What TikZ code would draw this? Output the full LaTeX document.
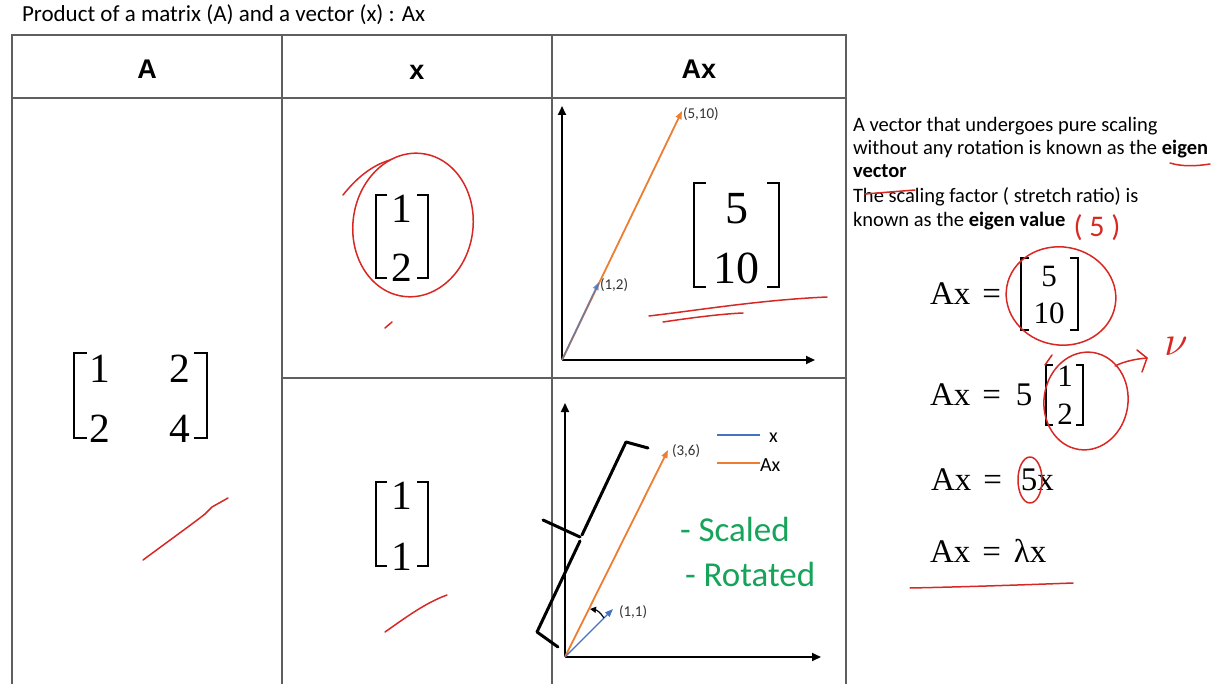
\documentclass[tikz,border=0pt]{standalone}
\usepackage{fontspec}
\newfontfamily\calib{Carlito}
\newfontfamily\arial{Liberation Sans}
\newfontfamily\cambr{Liberation Serif}
\usetikzlibrary{arrows.meta}
\definecolor{tablegray}{RGB}{95,95,95}
\definecolor{vorange}{RGB}{237,125,49}
\definecolor{vblue}{RGB}{68,114,196}
\definecolor{vgreen}{RGB}{22,163,90}
\definecolor{penred}{RGB}{215,40,35}
\definecolor{labgray}{RGB}{50,50,50}
\newcommand\brkt[5]{\draw[brk,#5] (#1+#4,#2) -- (#1,#2) -- (#1,#3) -- (#1+#4,#3);}
\newcommand\bigmath[2]{{\fontsize{10}{12}\selectfont\scalebox{#1}{$#2$}}}
\tikzset{
  grid/.style={draw=tablegray, line width=1.3pt},
  axis/.style={line width=2pt, -{Triangle[length=9pt,width=8pt]}},
  vec/.style={line width=1.8pt, -{Triangle[length=8pt,width=6pt]}},
  redpen/.style={draw=penred, line width=1.5pt, line cap=round, line join=round},
  brk/.style={line width=2.5pt, line join=miter, line cap=butt},
  txt/.style={inner sep=0pt, outer sep=0pt},
  hdr/.style={txt, font=\arial\bfseries\fontsize{27}{27}\selectfont},
  body/.style={txt, anchor=base west, font=\calib\fontsize{20.5}{24}\selectfont},
  lab/.style={txt, anchor=west, text=labgray, font=\calib\fontsize{15}{15}\selectfont},
  dig/.style={txt, font=\cambr\fontsize{41.5}{41.5}\selectfont},
  bigdig/.style={txt, font=\cambr\fontsize{46}{46}\selectfont},
  eqf/.style={txt, anchor=base west, font=\cambr\fontsize{33}{33}\selectfont},
  eqdig/.style={txt, font=\cambr\fontsize{31}{31}\selectfont},
  greentxt/.style={txt, anchor=base west, text=vgreen, font=\calib\fontsize{35}{35}\selectfont},
  legtxt/.style={txt, anchor=west, font=\calib\fontsize{20}{20}\selectfont},
}
\begin{document}
\begin{tikzpicture}[x=1pt,y=-1pt]
\useasboundingbox (0,0) rectangle (1219,695);
% title
\node[body, font=\calib\fontsize{23}{26}\selectfont] (title) at (22,22) {Product of a matrix (A) and a vector (x) : Ax};
% table
\draw[grid] (12,684) -- (12,35) -- (846,35) -- (846,684);
\draw[grid] (12,98) -- (846,98);
\draw[grid] (282,35) -- (282,684);
\draw[grid] (552,35) -- (552,684);
\draw[grid] (282,378) -- (846,378);
% headers
\node[hdr] (hA) at (147,69) {A};
\node[hdr] (hx) at (417,72.5) {x};
\node[hdr] (hAx) at (699,69) {Ax};
% matrix A
\node[dig] (a11) at (100,369) {1};
\node[dig] (a12) at (180,369) {2};
\node[dig] (a21) at (100,429) {2};
\node[dig] (a22) at (180,429) {4};
\brkt{74}{353}{438}{13}{}
\brkt{207}{353}{438}{-13}{}
% vector x top
\node[dig] (x1) at (402,209) {1};
\node[dig] (x2) at (402,267.5) {2};
\brkt{376}{195}{278}{11}{}
\brkt{428}{195}{278}{-11}{}
% vector x bottom
\node[dig] (y1) at (402,496) {1};
\node[dig] (y2) at (402,557) {1};
\brkt{376}{482}{566}{11}{}
\brkt{428}{482}{566}{-11}{}
% top plot
\coordinate (o1) at (562,360);
\coordinate (ya1) at (562,106);
\coordinate (xa1) at (815,360);
\coordinate (p510) at (682,111);
\coordinate (p12) at (599,282);
\draw[axis] (o1) -- (ya1);
\draw[axis] (o1) -- (xa1);
\draw[vec, vorange] (o1) -- (p510);
\draw[vec, vblue, opacity=0.65] (o1) -- (p12);
\node[lab] (l510) at (683,114) {(5,10)};
\node[lab] (l12) at (600,285) {(1,2)};
\node[bigdig] (z1) at (737,209) {5};
\node[bigdig] (z2) at (736,268) {10};
\brkt{694}{183}{287}{12}{line width=2.7pt}
\brkt{779}{183}{287}{-12}{line width=2.7pt}
% bottom plot
\coordinate (o2) at (565,657);
\coordinate (ya2) at (565,403);
\coordinate (xa2) at (821,657);
\coordinate (p36) at (668,450);
\coordinate (p11) at (613,609);
\draw[axis] (o2) -- (ya2);
\draw[axis] (o2) -- (xa2);
\draw[vec, vorange] (o2) -- (p36);
\draw[vec, vblue, line width=1.3pt] (o2) -- (p11);
\node[lab] (l36) at (672,451) {(3,6)};
\node[lab] (l11) at (619,612) {(1,1)};
\coordinate (rs) at (604,618);
\coordinate (re) at (590,609);
\draw[line width=1.2pt, -{Triangle[length=6pt,width=6pt]}] (rs) to[bend right=25] (re);
% legend
\coordinate (lb1) at (717,435);
\coordinate (lb2) at (760,435);
\coordinate (lo1) at (717,463);
\coordinate (lo2) at (760,463);
\draw[vblue, line width=1.5pt] (lb1) -- (lb2);
\draw[vorange, line width=2pt] (lo1) -- (lo2);
\node[legtxt] (lgx) at (769,438) {x};
\node[legtxt] (lgax) at (760,465) {Ax};
\node[greentxt] (g1) at (680,541.5) {- Scaled};
\node[greentxt] (g2) at (685,586.5) {- Rotated};
% hand-drawn bracket
\draw[line width=3pt, line cap=round, line join=round] (648,448) -- (626,442) -- (582,535);
\draw[line width=3pt, line cap=round, line join=round] (543,520) -- (580,537);
\draw[line width=3pt, line cap=round, line join=round] (580,541) -- (537,632) -- (558,647);
% right text
\node[body] (t1) at (853,132) {A vector that undergoes pure scaling};
\node[body] (t2) at (853,155) {without any rotation is known as the \textbf{eigen}};
\node[body] (t3) at (853,178) {\textbf{vector}};
\node[body] (t4) at (853,203) {The scaling factor ( stretch ratio) is};
\node[body] (t5) at (853,227) {known as the \textbf{eigen value}};
% equations
\node[eqf] (e1) at (930,305) {Ax\hspace{12pt}=};
\node[eqdig] (e1a) at (1049,277) {5};
\node[eqdig] (e1b) at (1049,313) {10};
\brkt{1021}{258}{330}{8}{line width=1.9pt}
\brkt{1078}{258}{330}{-8}{line width=1.9pt}
\node[eqf] (e2) at (930,405) {Ax\hspace{12pt}=\hspace{15pt}5};
\node[eqdig] (e2a) at (1065,376) {1};
\node[eqdig] (e2b) at (1065,414) {2};
\brkt{1046}{365}{425}{7}{line width=1.9pt}
\brkt{1083}{365}{425}{-7}{line width=1.9pt}
\node[eqf] (e3) at (931,490) {Ax\hspace{12pt}=\hspace{19pt}5x};
\node[eqf] (e4) at (930,562) {Ax\hspace{12pt}=\hspace{13pt}λx};
% red annotations
\draw[redpen] (143,560) .. controls (170,540) and (195,522) .. (205,514) -- (212,507) -- (228,498);
\draw[redpen] (343,195) .. controls (355,180) and (370,166) .. (390,160);
\draw[redpen, rotate around={-8:(413,225)}] (413,225) ellipse [x radius=60, y radius=72];
\draw[redpen] (385,328) -- (392,322);
\draw[redpen] (385,632) .. controls (405,618) and (425,603) .. (447,595);
\draw[redpen] (649,316) .. controls (700,310) and (760,300) .. (827,297);
\draw[redpen] (663,322) .. controls (690,318) and (720,314) .. (743,313);
\draw[redpen] (1170,163) .. controls (1183,167) and (1197,166) .. (1210,164);
\draw[redpen] (865,194) -- (915,190);
\node[txt, text=penred, font=\calib\fontsize{30}{30}\selectfont] (five) at (1097,228) {( 5 )};
\draw[redpen, rotate around={-10:(1061,296)}] (1061,296) ellipse [x radius=55, y radius=49];
\draw[redpen, rotate around={-8:(1086,401)}] (1086,401) ellipse [x radius=42, y radius=49];
\draw[redpen] (1045,365) -- (1052,355);
\draw[redpen] (1115,366) .. controls (1125,361) and (1136,359) .. (1147,358);
\draw[redpen] (1137,350) -- (1147,358) -- (1142,372);
\node[txt, text=penred] (nu) at (1176,346) {\bigmath{4.2}{\nu}};
\draw[redpen] (1030,480) ellipse [x radius=12, y radius=23];
\draw[redpen] (910,588) .. controls (960,587) and (1020,585) .. (1073,583);
\end{tikzpicture}
\end{document}
